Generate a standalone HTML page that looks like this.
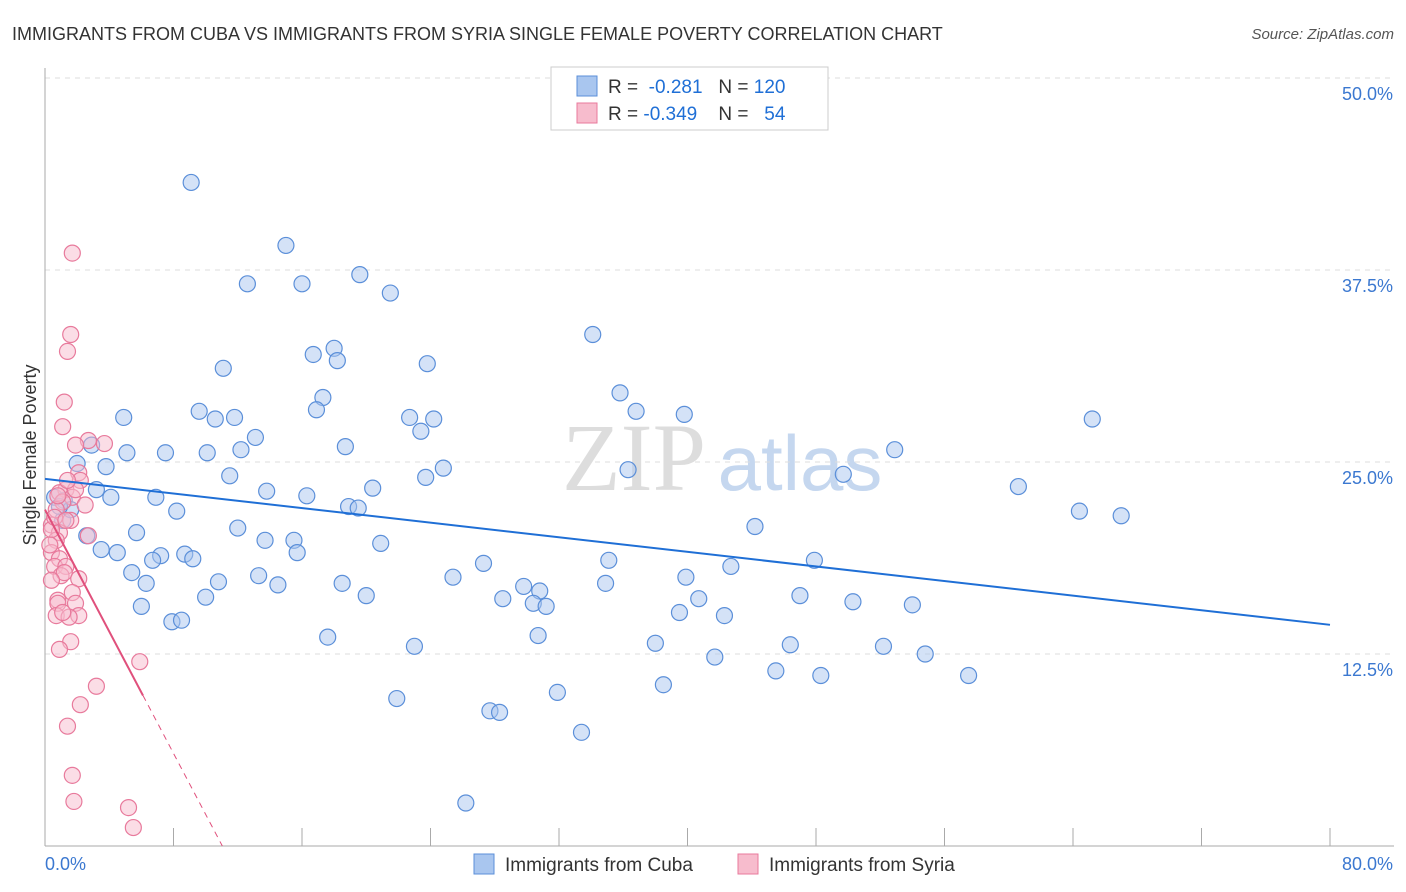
<!DOCTYPE html>
<html><head><meta charset="utf-8"><style>
body{margin:0;background:#fff;font-family:"Liberation Sans",sans-serif;}
svg{display:block}
</style></head><body>
<svg id="chart" width="1406" height="892" xmlns="http://www.w3.org/2000/svg">
<text x="12" y="40" font-size="18" fill="#333">IMMIGRANTS FROM CUBA VS IMMIGRANTS FROM SYRIA SINGLE FEMALE POVERTY CORRELATION CHART</text>
<text x="1394" y="39" font-size="15" fill="#555" font-style="italic" text-anchor="end">Source: ZipAtlas.com</text>
<text x="36" y="455" font-size="18" fill="#333" text-anchor="middle" transform="rotate(-90 36 455)">Single Female Poverty</text>
<g>
<text x="634" y="490" font-size="96" fill="#ddd" font-family="Liberation Serif,serif" text-anchor="middle">ZIP</text>
<text x="800" y="490" font-size="78" fill="#c5d7ef" text-anchor="middle">atlas</text>
</g>
<g id="grid"></g><g id="axes"></g><g id="pts"></g><g id="lines"></g>
<g>
<rect x="551" y="67" width="277" height="63" fill="#fff" stroke="#ccc"/>
<rect x="577" y="76" width="20" height="20" fill="#a9c6ef" stroke="#5b8fd9"/>
<rect x="577" y="103" width="20" height="20" fill="#f7bccd" stroke="#e87a9c"/>
<text x="608" y="93" font-size="19" fill="#333">R = <tspan fill="#1f6fd6">&#160;-0.281</tspan>&#160;&#160;&#160;N = <tspan fill="#1f6fd6">120</tspan></text>
<text x="608" y="120" font-size="19" fill="#333">R = <tspan fill="#1f6fd6">-0.349</tspan>&#160;&#160;&#160;&#160;N = <tspan fill="#1f6fd6">&#160;&#160;54</tspan></text>
</g>
<g>
<rect x="474" y="854" width="20" height="20" fill="#a9c6ef" stroke="#5b8fd9"/>
<text x="505" y="871" font-size="19" fill="#333">Immigrants from Cuba</text>
<rect x="738" y="854" width="20" height="20" fill="#f7bccd" stroke="#e87a9c"/>
<text x="769" y="871" font-size="19" fill="#333">Immigrants from Syria</text>
</g>
</svg>
<script>
const yTicks=[12.5,25,37.5,50];
const yTickLabels=["12.5%","25.0%","37.5%","50.0%"];
const xTicks=[0,8,16,24,32,40,48,56,64,72,80];
const xEndLabels=["0.0%","80.0%"];
const cubaX=[9.1,15.0,12.6,16.0,19.6,21.5,34.1,18.0,16.7,18.2,11.1,23.8,17.3,35.8,9.6,4.9,10.6,11.8,16.9,22.7,24.2,36.8,39.8,65.2,23.4,13.1,18.7,2.9,5.1,7.5,10.1,12.2,52.9,3.8,2.0,24.8,36.3,11.5,23.7,49.7,3.2,4.1,13.8,16.3,6.9,20.4,60.6,18.9,19.5,8.2,64.4,67.0,44.2,12.0,5.7,2.6,13.7,15.5,20.9,3.5,4.5,7.2,8.7,9.2,15.7,6.7,35.1,27.3,47.9,42.7,5.4,13.3,25.4,10.8,6.3,14.5,18.5,29.8,34.9,39.9,20.0,10.0,28.5,30.8,47.0,40.7,50.3,54.0,6.0,30.4,31.2,7.9,8.5,39.5,42.3,17.6,30.7,38.0,46.4,52.2,23.0,54.8,41.7,45.5,48.3,57.5,38.5,31.9,21.9,27.7,28.3,33.4,26.2,0.6,1.2,1.1,1.6,0.9];
const cubaY=[43.2,39.1,36.6,36.6,37.2,36.0,33.3,32.4,32.0,31.6,31.1,31.4,29.2,29.5,28.3,27.9,27.8,27.9,28.4,27.9,27.8,28.3,28.1,27.8,27.0,26.6,26.0,26.1,25.6,25.6,25.6,25.8,25.8,24.7,24.9,24.6,24.5,24.1,24.0,24.2,23.2,22.7,23.1,22.8,22.7,23.3,23.4,22.1,22.0,21.8,21.8,21.5,20.8,20.7,20.4,20.2,19.9,19.9,19.7,19.3,19.1,18.9,19.0,18.7,19.1,18.6,18.6,18.4,18.6,18.2,17.8,17.6,17.5,17.2,17.1,17.0,17.1,16.9,17.1,17.5,16.3,16.2,16.1,16.6,16.3,16.1,15.9,15.7,15.6,15.8,15.6,14.6,14.7,15.2,15.0,13.6,13.7,13.2,13.1,13.0,13.0,12.5,12.3,11.4,11.1,11.1,10.5,10.0,9.6,8.8,8.7,7.4,2.8,22.7,22.5,21.2,21.9,22.1];
const syriaX=[1.7,1.6,1.4,1.2,1.1,3.7,2.7,1.9,2.1,2.2,1.3,0.9,1.7,1.1,0.7,1.6,0.4,2.7,0.9,0.7,0.4,0.9,0.6,1.3,1.0,1.2,2.1,1.7,0.8,1.9,0.8,2.1,0.7,1.5,1.6,0.9,5.9,3.2,2.2,1.4,1.7,1.8,5.2,5.5,0.4,0.6,0.8,0.3,2.5,1.9,1.4,1.1,0.4,1.3];
const syriaY=[38.6,33.3,32.2,28.9,27.3,26.2,26.4,26.1,24.3,23.8,23.2,23.0,22.7,22.4,21.9,21.2,20.9,20.2,20.4,19.9,19.1,18.7,18.2,18.2,17.6,17.8,17.4,16.5,16.0,15.8,15.8,15.0,15.0,14.9,13.3,12.8,12.0,10.4,9.2,7.8,4.6,2.9,2.5,1.2,20.6,21.4,22.8,19.6,22.2,23.2,23.8,15.2,17.3,21.2];
const cubaTrend=[23.9,14.4];   // y at x=0 and x=80
const syriaTrend=[21.9,9.8];   // y at x=0 and x=6.1 (solid end)
const syriaSolidEnd=6.1;

const X0=45,X1=1330,Y0=846,YPER=192/12.5;
const sx=v=>X0+(v/80)*(X1-X0);
const sy=v=>Y0-v*YPER;
const NS="http://www.w3.org/2000/svg";
function mk(tag,attrs,parent){const e=document.createElementNS(NS,tag);for(const k in attrs)e.setAttribute(k,attrs[k]);parent.appendChild(e);return e;}
const grid=document.getElementById('grid'),axes=document.getElementById('axes'),pts=document.getElementById('pts'),lines=document.getElementById('lines');
yTicks.forEach((t,i)=>{
 const g=mk('line',{x1:X0,x2:1394,y1:sy(t),y2:sy(t),stroke:'#ddd','stroke-dasharray':'5,5'},grid);
 
 
 const l=mk('text',{x:1393,y:sy(t)+22,'font-size':18,fill:'#3b78d0','text-anchor':'end'},axes);
 l.textContent=yTickLabels[i];
 
 
});
const ax=mk('line',{x1:X0,x2:X0,y1:68,y2:Y0,stroke:'#aaa'},axes);


const bx=mk('line',{x1:X0,x2:1394,y1:Y0,y2:Y0,stroke:'#aaa'},axes);


xTicks.forEach(t=>{
 const k=mk('line',{x1:sx(t),x2:sx(t),y1:Y0,y2:Y0-18,stroke:'#aaa'},axes);
 
 
});
const xl0=mk('text',{x:X0,y:870,'font-size':18,fill:'#3b78d0'},axes);xl0.textContent=xEndLabels[0];


const xl1=mk('text',{x:1393,y:870,'font-size':18,fill:'#3b78d0','text-anchor':'end'},axes);xl1.textContent=xEndLabels[1];


cubaX.forEach((v,i)=>{
 const c=mk('circle',{cx:sx(v),cy:sy(cubaY[i]),r:8,fill:'#a9c6ef','fill-opacity':0.5,stroke:'#5b8fd9','stroke-width':1.2},pts);
 
 
});
syriaX.forEach((v,i)=>{
 const c=mk('circle',{cx:sx(v),cy:sy(syriaY[i]),r:8,fill:'#f7bccd','fill-opacity':0.5,stroke:'#e87a9c','stroke-width':1.2},pts);
 
 
});
const bl=mk('line',{x1:sx(0),y1:sy(cubaTrend[0]),x2:sx(80),y2:sy(cubaTrend[1]),stroke:'#1f6fd6','stroke-width':2},lines);


const slope=(syriaTrend[1]-syriaTrend[0])/syriaSolidEnd;
const xZero=-syriaTrend[0]/slope;
const pl=mk('line',{x1:sx(0),y1:sy(syriaTrend[0]),x2:sx(syriaSolidEnd),y2:sy(syriaTrend[1]),stroke:'#e0507c','stroke-width':2},lines);


const pd=mk('line',{x1:sx(syriaSolidEnd),y1:sy(syriaTrend[1]),x2:sx(xZero),y2:sy(0),stroke:'#e0507c','stroke-width':1,'stroke-dasharray':'6,5'},lines);


</script>
</body></html>
